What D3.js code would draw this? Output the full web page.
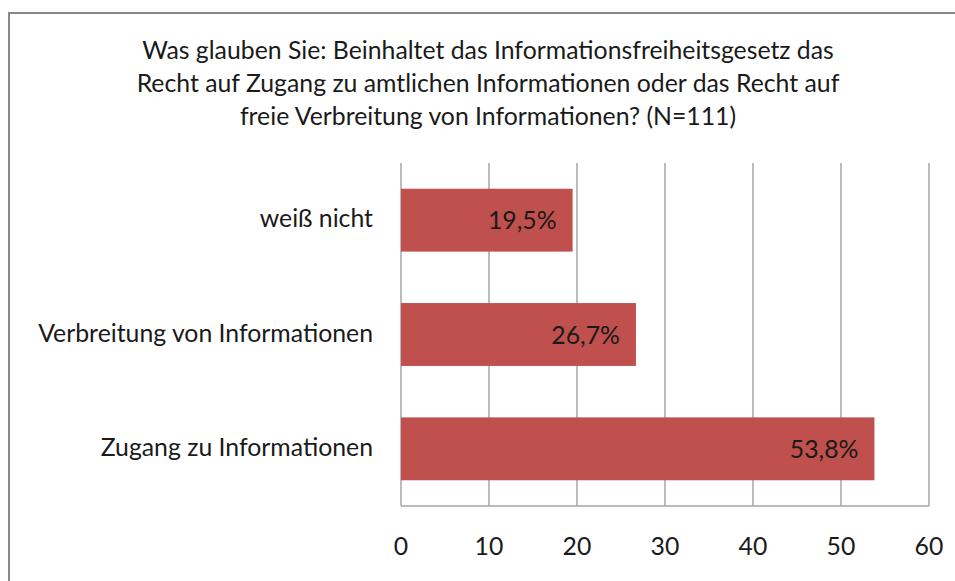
<html>
<head>
<meta charset="utf-8">
<style>
  body { margin: 0; background: #fff; }
  text { font-family: Lato, "Open Sans", sans-serif; fill: #1a1a1a; }
</style>
</head>
<body>
<div id="chart"></div>
<script src="https://d3js.org/d3.v7.min.js"></script>
<script>
var categories = ["weiß nicht", "Verbreitung von Informationen", "Zugang zu Informationen"];
var values = [19.5, 26.7, 53.8];
var labels = ["19,5%", "26,7%", "53,8%"];
var ticks = [0, 10, 20, 30, 40, 50, 60];
var titleLines = [
  "Was glauben Sie: Beinhaltet das Informationsfreiheitsgesetz das",
  "Recht auf Zugang zu amtlichen Informationen oder das Recht auf",
  "freie Verbreitung von Informationen? (N=111)"
];

var width = 955, height = 581;
var svg = d3.select('#chart').append('svg')
    .attr('width', width)
    .attr('height', height);

// outer frame (continues off the right and bottom edges)
svg.append('rect')
    .attr('x', 9).attr('y', 13)
    .attr('width', width + 20).attr('height', height + 20)
    .attr('fill', 'none')
    .attr('stroke', '#888')
    .attr('stroke-width', 2);

svg.selectAll('.title')
    .data(titleLines)
    .enter()
    .append('text')
    .attr('class', 'title')
    .attr('x', 488)
    .attr('y', function (d, i) { return 59 + i * 33; })
    .attr('text-anchor', 'middle')
    .style('font-size', '24.8px')
    .text(function (d) { return d; });

var x = d3.scaleLinear().domain([0, 60]).range([401, 929]);
var y = d3.scaleBand().domain(categories).range([163, 506]).paddingInner(0.45).paddingOuter(0.225);

// grid lines
svg.selectAll('.grid')
    .data(ticks)
    .enter()
    .append('line')
    .attr('x1', function (d) { return x(d); })
    .attr('x2', function (d) { return x(d); })
    .attr('y1', 163)
    .attr('y2', 506)
    .attr('stroke', '#a6a6a6')
    .attr('stroke-width', 1.5);

svg.append('line')
    .attr('x1', x(0)).attr('x2', x(60))
    .attr('y1', 506).attr('y2', 506)
    .attr('stroke', '#a6a6a6')
    .attr('stroke-width', 1.5);

svg.selectAll('.bar')
    .data(values)
    .enter()
    .append('rect')
    .attr('x', x(0))
    .attr('y', function (d, i) { return y(categories[i]); })
    .attr('width', function (d) { return x(d) - x(0); })
    .attr('height', y.bandwidth())
    .attr('fill', '#c0504d');

svg.selectAll('.val')
    .data(values)
    .enter()
    .append('text')
    .attr('x', function (d) { return x(d) - 16; })
    .attr('y', function (d, i) { return y(categories[i]) + y.bandwidth() / 2 + 9; })
    .attr('text-anchor', 'end')
    .style('font-size', '24.8px')
    .text(function (d, i) { return labels[i]; });

svg.selectAll('.cat')
    .data(categories)
    .enter()
    .append('text')
    .attr('x', 373)
    .attr('y', function (d) { return y(d) + y.bandwidth() / 2 + 7; })
    .attr('text-anchor', 'end')
    .style('font-size', '24.8px')
    .text(function (d) { return d; });

svg.selectAll('.tick')
    .data(ticks)
    .enter()
    .append('text')
    .attr('x', function (d) { return x(d); })
    .attr('y', 555)
    .attr('text-anchor', 'middle')
    .style('font-size', '24.8px')
    .text(function (d) { return d; });
</script>
</body>
</html>
